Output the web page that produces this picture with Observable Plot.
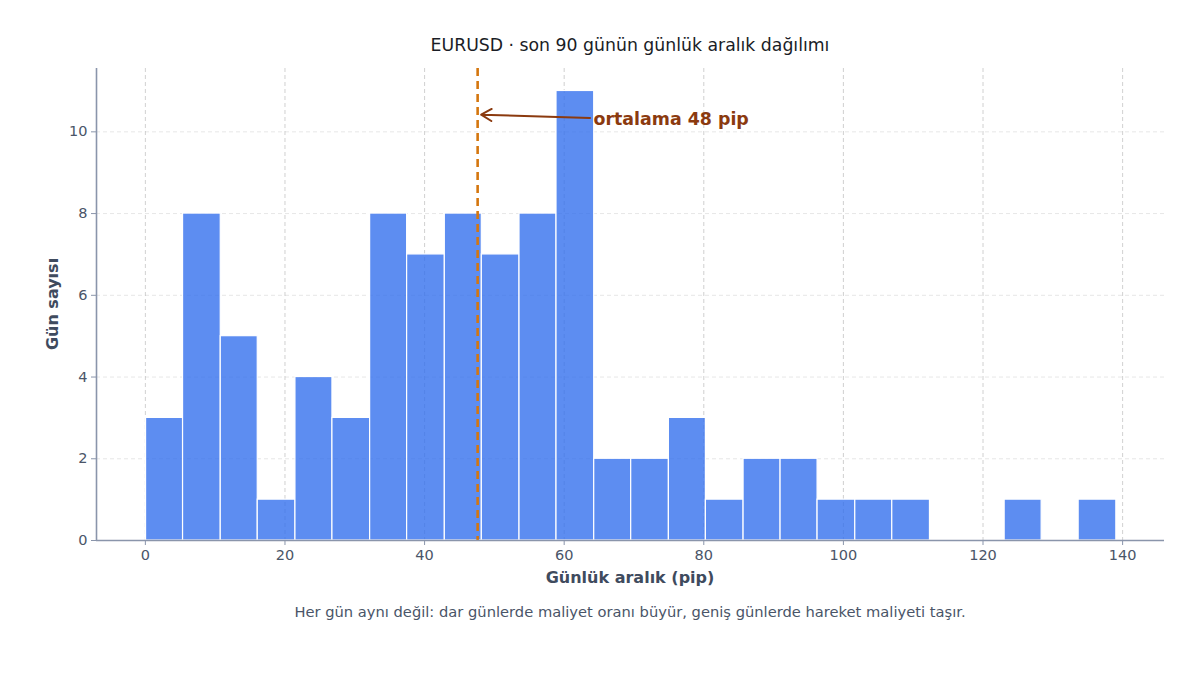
<!DOCTYPE html>
<html>
<head>
<meta charset="utf-8">
<script src="https://cdn.jsdelivr.net/npm/d3@7"></script>
<script src="https://cdn.jsdelivr.net/npm/@observablehq/plot@0.6"></script>
<style>
  html, body { margin: 0; padding: 0; background: #fff; }
  #wrap { position: relative; width: 1200px; height: 675px; font-family: "DejaVu Sans", sans-serif; }
  .lbl { position: absolute; left: 0; width: 1260px; text-align: center; white-space: nowrap; }
  #title { top: 35px; font-size: 17.3px; color: #1a1d26; }
  #xlabel { top: 568px; font-size: 16px; font-weight: bold; color: #3f4b5e; }
  #caption { top: 603px; font-size: 14.7px; color: #4a5568; }
  #ylabel { position: absolute; left: 52px; top: 304px; transform: translate(-50%, -50%) rotate(-90deg); font-size: 16px; font-weight: bold; color: #3f4b5e; white-space: nowrap; }
</style>
</head>
<body>
<div id="wrap">
  <div id="chart"></div>
  <div id="title" class="lbl">EURUSD · son 90 günün günlük aralık dağılımı</div>
  <div id="xlabel" class="lbl">Günlük aralık (pip)</div>
  <div id="caption" class="lbl">Her gün aynı değil: dar günlerde maliyet oranı büyür, geniş günlerde hareket maliyeti taşır.</div>
  <div id="ylabel">Gün sayısı</div>
</div>
<script>
// Bin edges (pip) and counts
const binEdges = [0.1, 5.4, 10.8, 16.1, 21.5, 26.8, 32.2, 37.5, 42.9, 48.2, 53.6, 58.9, 64.3, 69.6, 75.0, 80.3, 85.7, 91.0, 96.3, 101.7, 107.0, 112.4, 117.7, 123.1, 128.4, 133.7, 139.1];
const counts   = [3, 8, 5, 1, 4, 3, 8, 7, 8, 7, 8, 11, 2, 2, 3, 1, 2, 2, 1, 1, 1, 0, 0, 1, 0, 1];
const meanPip = 47.6;
const meanLabel = "ortalama 48 pip";
const xTicks = [0, 20, 40, 60, 80, 100, 120, 140];
const yTicks = [0, 2, 4, 6, 8, 10];

const bins = counts.map((c, i) => ({x1: binEdges[i], x2: binEdges[i + 1], y: c})).filter(d => d.y > 0);

const axisCol = "#8a95ab";
const textCol = "#4a5568";

const chart = Plot.plot({
  width: 1200,
  height: 675,
  marginTop: 68,
  marginBottom: 135,
  marginLeft: 96,
  marginRight: 36,
  style: {fontFamily: "DejaVu Sans, sans-serif", fontSize: "14px", background: "white"},
  x: {domain: [-7, 146]},
  y: {domain: [0, 11.55]},
  marks: [
    Plot.gridY(yTicks, {stroke: "#d8d8d8", strokeOpacity: 0.8, strokeDasharray: "4,3", strokeWidth: 0.8}),
    Plot.gridX(xTicks, {stroke: "#bdbdbd", strokeOpacity: 0.9, strokeDasharray: "4,3", strokeWidth: 0.8}),
    Plot.rectY(bins, {x1: "x1", x2: "x2", y: "y", fill: "#2f6ded", fillOpacity: 0.78, stroke: "white", strokeWidth: 1.2}),
    Plot.ruleX([meanPip], {stroke: "#d4760e", strokeWidth: 2.6, strokeDasharray: "8,5"}),
    Plot.arrow([{x1: 63.7, y1: 10.34, x2: 48.1, y2: 10.42}], {x1: "x1", y1: "y1", x2: "x2", y2: "y2", stroke: "#8b3a0f", strokeWidth: 2, headLength: 9, bend: 0}),
    Plot.text([meanLabel], {x: 64.2, y: 10.3, text: d => d, textAnchor: "start", fontWeight: "bold", fontSize: 17.4, fill: "#8b3a0f"}),
    Plot.ruleY([0], {stroke: axisCol, strokeWidth: 1.6}),
    Plot.ruleX([-7], {stroke: axisCol, strokeWidth: 1.6}),
    Plot.axisX(xTicks, {tickSize: 5, tickPadding: 4, stroke: axisCol, fill: textCol, fontSize: 14.5, label: null}),
    Plot.axisY(yTicks, {tickSize: 5, tickPadding: 4, stroke: axisCol, fill: textCol, fontSize: 14.5, label: null})
  ]
});
document.getElementById("chart").appendChild(chart);
</script>
</body>
</html>
